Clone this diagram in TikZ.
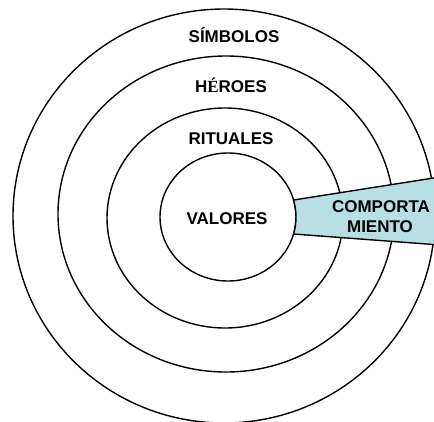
\documentclass[tikz,border=0pt]{standalone}
\usepackage{fontspec}
\setmainfont{Liberation Sans}
\newfontfamily\accentfont{Liberation Serif}
\usepackage{xcolor}
\usetikzlibrary{positioning}
\definecolor{wedgefill}{RGB}{183,223,228}

\begin{document}
\begin{tikzpicture}[x=1pt,y=1pt,
  ring/.style={draw=black,line width=1.4pt},
  lbl/.style={anchor=base,inner sep=0pt,font=\fontsize{17}{19}\selectfont\bfseries,align=center},
  wedge/.style={draw=black,line width=1.4pt,fill=wedgefill}
]
  \useasboundingbox (0,0) rectangle (434,-421);
  \clip (0,0) rectangle (434,-421);

  % rings, outer to inner
  \draw[ring] (224,-216) ellipse [x radius=211,y radius=207];
  \draw[ring] (226,-214) ellipse [x radius=168,y radius=158];
  \draw[ring] (225,-218) ellipse [x radius=118,y radius=110];
  \draw[ring] (228,-217) ellipse [x radius=68,y radius=64];

  % behaviour wedge
  \path (228,-217) ++(15.4:68 and 64) coordinate (wtop);
  \path (228,-217) ++(-15.4:68 and 64) coordinate (wbot);
  \draw[wedge] (wtop) -- (440,-177) -- (440,-245) -- (wbot)
    arc [start angle=-15.4,end angle=15.4,x radius=68,y radius=64] -- cycle;

  \node[lbl] (simbolos) at (234,-42) {SÍMBOLOS};
  \node[lbl] (heroes) at (231,-92) {H{\accentfont\bfseries É}ROES};
  \node[lbl] (rituales) at (231,-144) {RITUALES};
  \node[lbl] (valores) at (227,-224) {VALORES};
  \node[lbl] (comporta) at (381,-212) {COMPORTA};
  \node[lbl] (miento) at (380,-232) {MIENTO};
\end{tikzpicture}
\end{document}
